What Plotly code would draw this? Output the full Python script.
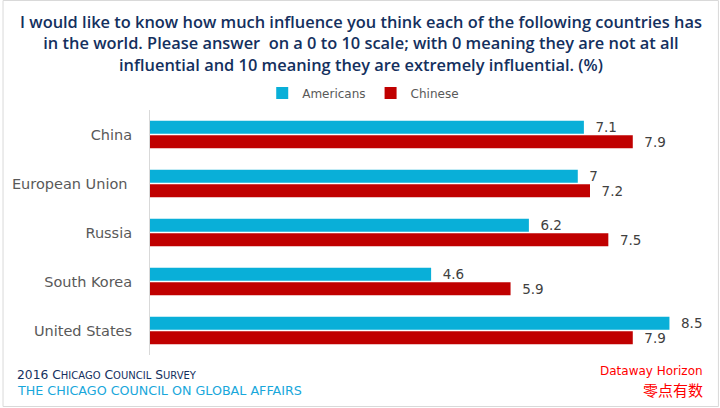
import plotly.graph_objects as go

categories = ["China", "European Union ", "Russia", "South Korea", "United States"]
americans = [7.1, 7.0, 6.2, 4.6, 8.5]
chinese = [7.9, 7.2, 7.5, 5.9, 7.9]
series_names = ["Americans", "Chinese"]
title_text = ("I would like to know how much influence you think each of the following countries has<br>"
              "in the world. Please answer  on a 0 to 10 scale; with 0 meaning they are not at all<br>"
              "influential and 10 meaning they are extremely influential. (%)")

W, H = 720, 408
L, R, T, B = 148, 20, 110, 53
FONT = "DejaVu Sans"

fig = go.Figure()
for name, vals, col in [(series_names[0], americans, "#09AFD8"), (series_names[1], chinese, "#C00000")]:
    fig.add_trace(go.Bar(
        y=categories, x=vals, name=name, orientation="h",
        marker=dict(color=col, line=dict(width=0)),
        text=[f"{v:g}" for v in vals], texttemplate="  %{text}",
        textposition="outside", constraintext="none", cliponaxis=False,
        textfont=dict(family=FONT, size=13.5, color="#404040"),
        hoverinfo="skip",
    ))

pw = W - L - R
ph = H - T - B
def px_x(p):
    return (p - L) / pw
def px_y(p):
    return 1 - (p - T) / ph

fig.update_layout(
    width=W, height=H,
    margin=dict(l=L, r=R, t=T, b=B, pad=0),
    paper_bgcolor="white", plot_bgcolor="white",
    barmode="group", bargap=0.408, bargroupgap=0.1,
    font=dict(family=FONT),
    showlegend=True,
    legend=dict(orientation="h", x=px_x(362), xanchor="center", y=px_y(93), yanchor="middle",
                font=dict(family=FONT, size=12, color="#595959"), itemwidth=30,
                traceorder="normal", bgcolor="rgba(0,0,0,0)"),
    xaxis=dict(range=[0, 9], visible=False, fixedrange=True),
    yaxis=dict(autorange="reversed", showgrid=False, zeroline=False, fixedrange=True,
               showline=True, linecolor="#d9d9d9", linewidth=1,
               ticks="", ticklabelstandoff=14,
               tickfont=dict(family=FONT, size=14.5, color="#595959")),
)

ann = [
    dict(text=title_text, x=px_x(360), y=px_y(43), xref="paper", yref="paper",
         xanchor="center", yanchor="middle", showarrow=False, align="center",
         font=dict(family="Open Sans", size=16.4, weight=600, color="#14305E")),
    dict(text="2016 C<span style='font-size:10px'>HICAGO</span> C<span style='font-size:10px'>OUNCIL</span> S<span style='font-size:10px'>URVEY</span>",
         x=px_x(13), y=px_y(375), xref="paper", yref="paper", xanchor="left", yanchor="middle",
         showarrow=False, font=dict(family=FONT, size=12.3, color="#14305E")),
    dict(text="THE CHICAGO COUNCIL ON GLOBAL AFFAIRS",
         x=px_x(13), y=px_y(390), xref="paper", yref="paper", xanchor="left", yanchor="middle",
         showarrow=False, font=dict(family=FONT, size=12.7, color="#19A7DB")),
    dict(text="Dataway Horizon",
         x=px_x(705), y=px_y(371), xref="paper", yref="paper", xanchor="right", yanchor="middle",
         showarrow=False, font=dict(family=FONT, size=12, color="#FF0000")),
    dict(text="零点有数",
         x=px_x(705), y=px_y(389), xref="paper", yref="paper", xanchor="right", yanchor="middle",
         showarrow=False, font=dict(family="Noto Sans CJK SC", size=15, color="#FF0000")),
]
fig.update_layout(annotations=ann)

fig.add_shape(type="rect", xref="paper", yref="paper",
              x0=px_x(0.5), x1=px_x(718.5), y0=px_y(0.5), y1=px_y(406.5),
              line=dict(color="#D9D9D9", width=1), fillcolor="rgba(0,0,0,0)", layer="below")

fig.write_html("out.html", config={"displayModeBar": False},
               post_script="document.body.style.margin='0';document.body.style.padding='0';")
